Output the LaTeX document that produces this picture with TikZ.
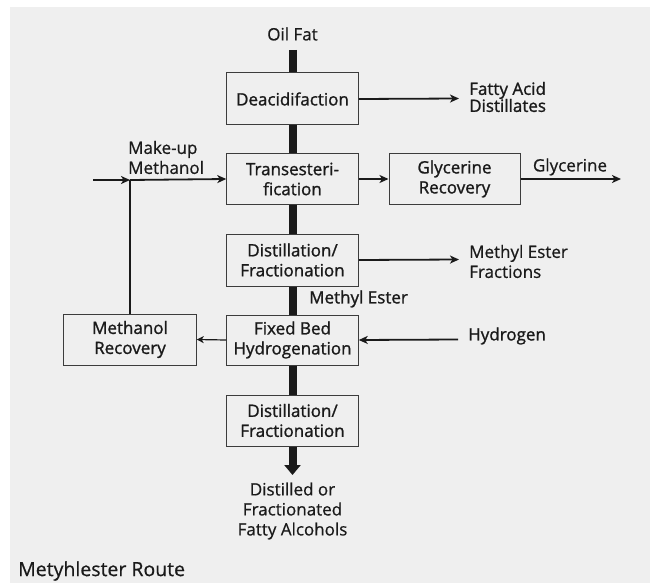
\documentclass[tikz,border=0pt]{standalone}
\usepackage{fontspec}
\setmainfont{Open Sans}[FakeBold=0.6]
\newfontfamily\boxfont{Open Sans}[FakeBold=1.2]
\usetikzlibrary{arrows.meta}
\definecolor{panel}{HTML}{EFEFEF}
\definecolor{ink}{HTML}{1A1A1A}
\tikzset{
  unit/.style={draw=ink!85, line width=1pt, fill=panel, minimum width=131.5pt,
    minimum height=51pt, inner sep=0pt, align=center,
    font=\boxfont\fontsize{17}{20}\selectfont, text=ink},
  label/.style={inner sep=0pt, text=ink, font=\fontsize{17}{20}\selectfont},
  thin/.style={draw=ink, line width=1.8pt},
  arr/.style={thin, -{Stealth[length=9pt,width=8pt,inset=2.5pt]}},
  small/.style={thin, line width=1.2pt, -{Stealth[length=7pt,width=7pt,inset=2pt]}},
  main/.style={draw=ink, line width=8pt},
  mainarr/.style={main, -{Triangle[length=10pt,width=16pt]}}
}
\begin{document}
\begin{tikzpicture}[x=1pt,y=-1pt]
  \useasboundingbox (0,0) rectangle (650,583);
  \fill[white] (0,0) rectangle (650,583);
  \fill[panel] (10,7) rectangle (650,583);

  % process units
  \node[unit, minimum height=52pt] (deac) at (292.5,99) {Deacidifaction};
  \node[unit, minimum height=50.5pt] (trans) at (292.5,179) {Transesteri-\\fication};
  \node[unit, minimum height=52pt] (dist1) at (292.5,260) {Distillation/\\Fractionation};
  \node[unit, minimum height=50pt] (fixed) at (292.5,340) {Fixed Bed\\Hydrogenation};
  \node[unit, minimum height=51pt] (dist2) at (292.5,420.5) {Distillation/\\Fractionation};
  \node[unit, minimum width=131pt, minimum height=50.5pt] (glyc) at (454.5,179) {Glycerine\\Recovery};
  \node[unit, minimum width=132.5pt, minimum height=51pt] (meoh) at (130,339.5) {Methanol\\Recovery};

  % stream labels
  \node[label] (oil) at (292.5,34) {Oil Fat};
  \node[label, anchor=west, align=left, font=\boxfont\fontsize{17}{17}\selectfont] (fad) at (469,97) {Fatty Acid\\Distillates};
  \node[label] (glyout) at (570,167) {Glycerine};
  \node[label, anchor=west, align=left] (mkup) at (128,157.5) {Make-up\\Methanol};
  \node[label, anchor=west, align=left] (mef) at (469,261.5) {Methyl Ester\\Fractions};
  \node[label, anchor=west, font=\boxfont\fontsize{17}{20}\selectfont] (mest) at (309,299) {Methyl Ester};
  \node[label, anchor=west, font=\boxfont\fontsize{17}{20}\selectfont] (h2) at (468,336) {Hydrogen};
  \node[label, align=center] (fal) at (292.5,511) {Distilled or\\Fractionated\\Fatty Alcohols};
  \node[label, anchor=west, font=\fontsize{19.5}{22}\selectfont] (title) at (18,571) {Metyhlester Route};

  % free ends of the streams
  \coordinate (oiltop) at (292.5,50);
  \coordinate (alcend) at (292.5,475);
  \coordinate (fadend) at (459,98.5);
  \coordinate (glyend) at (621,179);
  \coordinate (mefend) at (459,259.5);
  \coordinate (h2start) at (458,339.5);
  \coordinate (mkin) at (93,180);
  \coordinate (mix) at (130,180);

  % main product line
  \draw[main] (oiltop) -- (deac.north);
  \draw[main] (deac.south) -- (trans.north);
  \draw[main] (trans.south) -- (dist1.north);
  \draw[main] (dist1.south) -- (fixed.north);
  \draw[main] (fixed.south) -- (dist2.north);
  \draw[mainarr] (dist2.south) -- (alcend);

  % side streams
  \draw[arr] (deac.east) -- (fadend);
  \draw[arr] (trans.east) -- (glyc.west);
  \draw[arr] (glyc.east) -- (glyend);
  \draw[arr] (dist1.east) -- (mefend);
  \draw[arr] (h2start) -- (fixed.east);
  \draw[small] (fixed.west) -- (meoh.east);
  \draw[thin] (meoh.north) -- (mix);
  \draw[arr] (mkin) -- (mix);
  \draw[arr] (mix) -- (trans.west);
\end{tikzpicture}
\end{document}
